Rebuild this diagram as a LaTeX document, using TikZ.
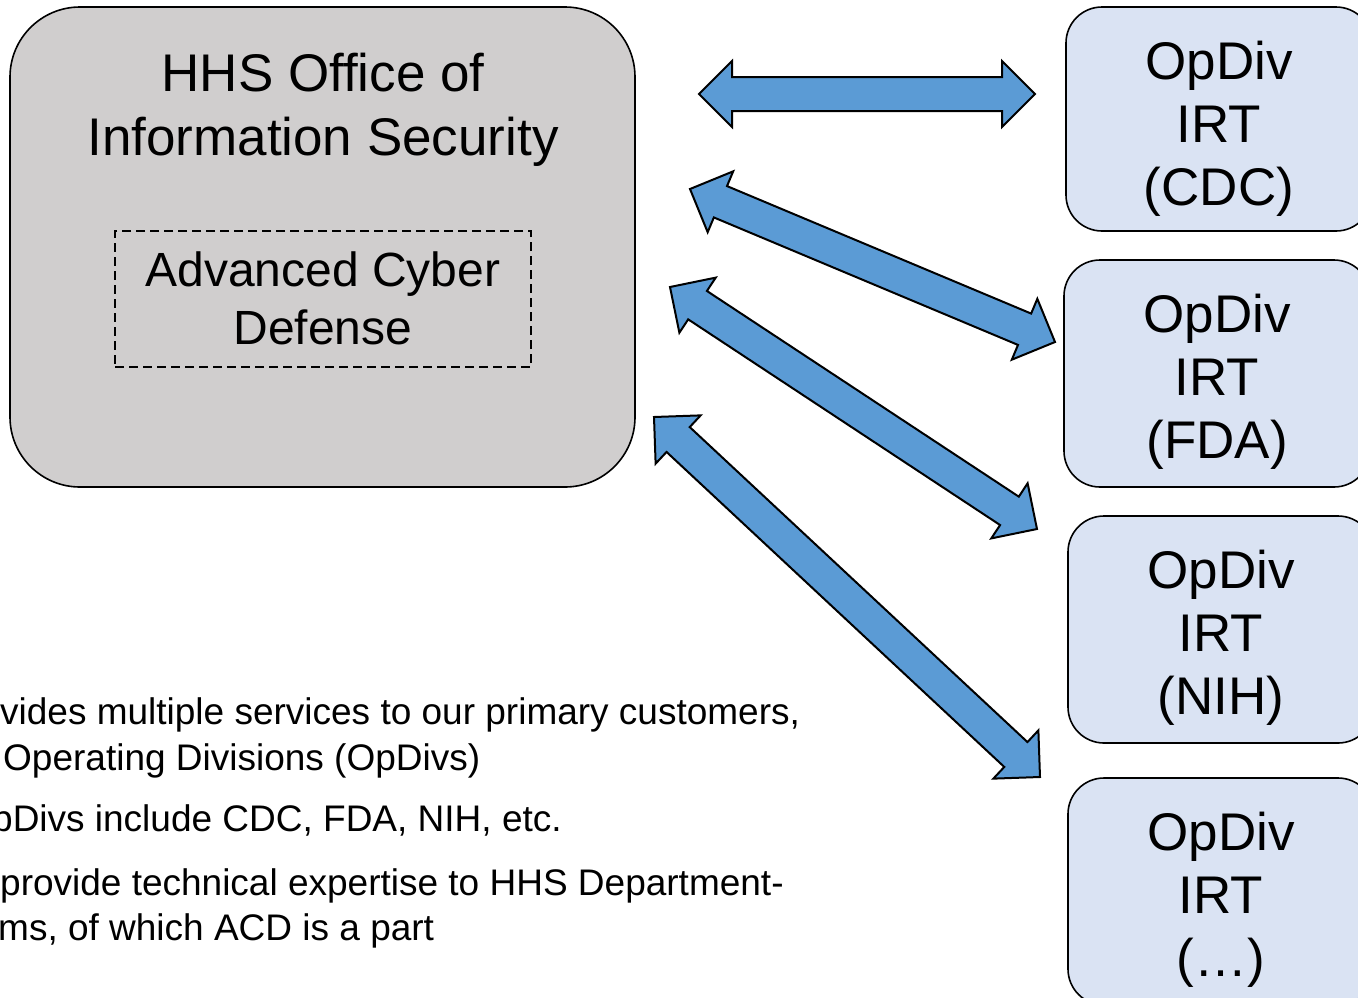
\documentclass[tikz,border=0pt]{standalone}
\usepackage{fontspec}
\setmainfont{Liberation Sans}
\usetikzlibrary{calc}
\definecolor{hhsgray}{RGB}{208,206,206}
\definecolor{irtblue}{RGB}{218,227,243}
\definecolor{arrowblue}{RGB}{91,155,213}
\tikzset{
  mainbox/.style={draw=black, line width=1.6pt, fill=hhsgray, rounded corners=70pt, inner sep=0pt},
  acdbox/.style={draw=black, line width=1.5pt, dash pattern=on 9pt off 5pt, inner sep=0pt},
  irtbox/.style={draw=black, line width=1.6pt, fill=irtblue, rounded corners=36pt, inner sep=0pt, minimum width=306pt, minimum height=226pt},
  titletext/.style={align=center, inner sep=0pt, anchor=north, font=\fontsize{53pt}{64pt}\selectfont},
  acdtext/.style={align=center, inner sep=0pt, anchor=north, font=\fontsize{48pt}{58pt}\selectfont},
  irttext/.style={align=center, inner sep=0pt, anchor=north, font=\fontsize{53pt}{63pt}\selectfont},
  bodytext/.style={inner sep=0pt, anchor=base west, font=\fontsize{37pt}{45pt}\selectfont},
  blockarrow/.style={draw=black, line width=2pt, fill=arrowblue, line join=miter},
}
\newcommand{\dblarrow}[2]{%
  \path[blockarrow] let \p1=($(#2)-(#1)$), \n1={atan2(\y1,\x1)} in
    (#1) -- ($(#1)+(\n1:33pt)+(\n1+90:33pt)$) -- ($(#1)+(\n1:33pt)+(\n1+90:17pt)$)
    -- ($(#2)+(\n1+180:33pt)+(\n1+90:17pt)$) -- ($(#2)+(\n1+180:33pt)+(\n1+90:33pt)$)
    -- (#2) -- ($(#2)+(\n1+180:33pt)+(\n1-90:33pt)$) -- ($(#2)+(\n1+180:33pt)+(\n1-90:17pt)$)
    -- ($(#1)+(\n1:33pt)+(\n1-90:17pt)$) -- ($(#1)+(\n1:33pt)+(\n1-90:33pt)$) -- cycle;
}
\begin{document}
\begin{tikzpicture}[x=1pt, y=-1pt]
\useasboundingbox (0,0) rectangle (1358,997);
\clip (0,0) rectangle (1358,997);
\fill[white] (0,0) rectangle (1358,997);

% main box
\node[mainbox, minimum width=625pt, minimum height=480pt] (ois) at (322.5,247) {};
\node[titletext] (oistitle) at (323,53) {HHS Office of\\Information Security};
\node[acdbox, minimum width=416pt, minimum height=136pt] (acd) at (323,299) {};
\node[acdtext] (acdtitle) at (323,252) {Advanced Cyber\\Defense};

% OpDiv boxes
\node[irtbox, minimum height=224pt] (cdc) at (1219,119) {};
\node[irttext] (cdct) at ([yshift=-35pt]cdc.north) {OpDiv\\IRT\\(CDC)};
\node[irtbox, minimum height=227pt] (fda) at (1217,373.5) {};
\node[irttext] (fdat) at ([yshift=-35pt]fda.north) {OpDiv\\IRT\\(FDA)};
\node[irtbox, minimum height=227pt] (nih) at (1221,629.5) {};
\node[irttext] (niht) at ([yshift=-35pt]nih.north) {OpDiv\\IRT\\(NIH)};
\node[irtbox, minimum height=227pt] (etc) at (1221,891.5) {};
\node[irttext] (etct) at ([yshift=-35pt]etc.north) {OpDiv\\IRT\\(…)};

% arrow end points
\coordinate (a1s) at (699,94);   \coordinate (a1e) at (1035,94);
\coordinate (a2s) at (690,189);  \coordinate (a2e) at (1055,342);
\coordinate (a3s) at (670,287);  \coordinate (a3e) at (1037,529);
\coordinate (a4s) at (654,417);  \coordinate (a4e) at (1040,777);
\dblarrow{a1s}{a1e}
\dblarrow{a2s}{a2e}
\dblarrow{a3s}{a3e}
\dblarrow{a4s}{a4e}

% body text (cut off at the left edge, as in the reference)
\node[bodytext] (l1) at (0,724) {vides multiple services to our primary customers,};
\node[bodytext] (l2) at (3,770) {Operating Divisions (OpDivs)};
\node[bodytext] (l3) at (-8,831) {pDivs include CDC, FDA, NIH, etc.};
\node[bodytext] (l4) at (0,895) {provide technical expertise to HHS Department-};
\node[bodytext] (l5) at (-2,940) {ms, of which ACD is a part};
\end{tikzpicture}
\end{document}
